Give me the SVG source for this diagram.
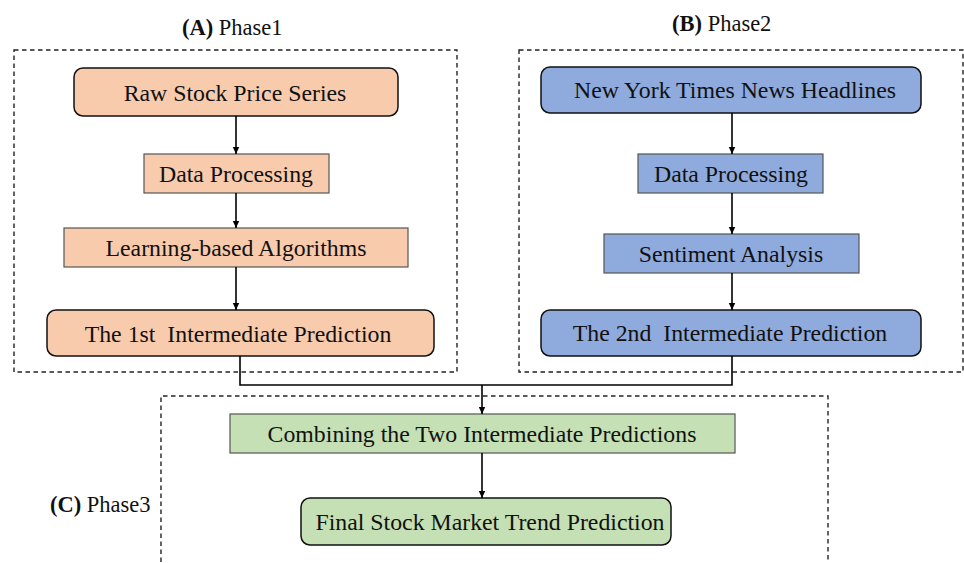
<svg xmlns="http://www.w3.org/2000/svg" width="964" height="563" viewBox="0 0 964 563">
  <defs>
    <marker id="arrow" markerWidth="8" markerHeight="8" refX="7" refY="4" orient="auto" markerUnits="userSpaceOnUse">
      <path d="M0,0.8 L7,4 L0,7.2 Z" fill="#000"/>
    </marker>
    <style>
      .frame { fill: none; stroke: #222; stroke-width: 1.4; stroke-dasharray: 4.5 3.5; }
      .label { font-family: "Liberation Serif", "Times New Roman", serif; font-size: 23.8px; fill: #111; text-anchor: middle; }
      .phase { font-family: "Liberation Serif", "Times New Roman", serif; font-size: 22.5px; fill: #111; }
      .tag { font-weight: bold; }
      .orange { fill: #F8CBAD; }
      .blue { fill: #8FAADC; }
      .green { fill: #C5E0B4; }
      .round { stroke: #111; stroke-width: 1.5; }
      .plain { stroke: #555; stroke-width: 1.2; }
      .link { fill: none; stroke: #000; stroke-width: 1.6; }
    </style>
  </defs>
  <rect width="964" height="563" fill="#fff"/>

  <!-- phase frames -->
  <g id="frames">
    <rect class="frame" x="14" y="50" width="443" height="322"/>
    <rect class="frame" x="519" y="50" width="444" height="322"/>
    <polyline class="frame" points="161,570 161,396 828,396 828,570"/>
  </g>

  <!-- phase titles -->
  <g id="titles">
    <text class="phase" x="182" y="35" xml:space="preserve"><tspan class="tag">(A)</tspan> Phase1</text>
    <text class="phase" x="672" y="31" xml:space="preserve"><tspan class="tag">(B)</tspan> Phase2</text>
    <text class="phase" x="50" y="512" xml:space="preserve"><tspan class="tag">(C)</tspan> Phase3</text>
  </g>

  <!-- phase 1 -->
  <g id="raw-stock">
    <rect class="orange round" x="74" y="68" width="324" height="48" rx="9"/>
    <text class="label" x="235" y="101">Raw Stock Price Series</text>
  </g>
  <g id="data-processing-a">
    <rect class="orange plain" x="144" y="154" width="185" height="39"/>
    <text class="label" x="236" y="182">Data Processing</text>
  </g>
  <g id="learning">
    <rect class="orange plain" x="64" y="228" width="344" height="39"/>
    <text class="label" x="236" y="256">Learning-based Algorithms</text>
  </g>
  <g id="first-prediction">
    <rect class="orange round" x="47" y="310" width="387" height="46" rx="9"/>
    <text class="label" x="238" y="342" xml:space="preserve">The 1st  Intermediate Prediction</text>
  </g>

  <!-- phase 2 -->
  <g id="nyt">
    <rect class="blue round" x="541" y="67" width="380" height="46" rx="9"/>
    <text class="label" x="735" y="98">New York Times News Headlines</text>
  </g>
  <g id="data-processing-b">
    <rect class="blue plain" x="638" y="154" width="185" height="39"/>
    <text class="label" x="731" y="182">Data Processing</text>
  </g>
  <g id="sentiment">
    <rect class="blue plain" x="604" y="234" width="255" height="39"/>
    <text class="label" x="731" y="262">Sentiment Analysis</text>
  </g>
  <g id="second-prediction">
    <rect class="blue round" x="541" y="310" width="380" height="46" rx="9"/>
    <text class="label" x="730" y="341" xml:space="preserve">The 2nd  Intermediate Prediction</text>
  </g>

  <!-- phase 3 -->
  <g id="combining">
    <rect class="green plain" x="230" y="414" width="505" height="39"/>
    <text class="label" x="482" y="442">Combining the Two Intermediate Predictions</text>
  </g>
  <g id="final">
    <rect class="green round" x="301" y="498" width="370" height="47" rx="9"/>
    <text class="label" x="490" y="530">Final Stock Market Trend Prediction</text>
  </g>

  <!-- connectors -->
  <g id="connectors">
    <line class="link" x1="236" y1="116" x2="236" y2="154" marker-end="url(#arrow)"/>
    <line class="link" x1="236" y1="193" x2="236" y2="228" marker-end="url(#arrow)"/>
    <line class="link" x1="236" y1="267" x2="236" y2="310" marker-end="url(#arrow)"/>
    <line class="link" x1="732" y1="113" x2="732" y2="154" marker-end="url(#arrow)"/>
    <line class="link" x1="732" y1="193" x2="732" y2="234" marker-end="url(#arrow)"/>
    <line class="link" x1="732" y1="273" x2="732" y2="310" marker-end="url(#arrow)"/>
    <polyline class="link" points="240,356 240,385 732,385 732,356"/>
    <line class="link" x1="482" y1="385" x2="482" y2="414" marker-end="url(#arrow)"/>
    <line class="link" x1="482" y1="453" x2="482" y2="498" marker-end="url(#arrow)"/>
  </g>
</svg>
